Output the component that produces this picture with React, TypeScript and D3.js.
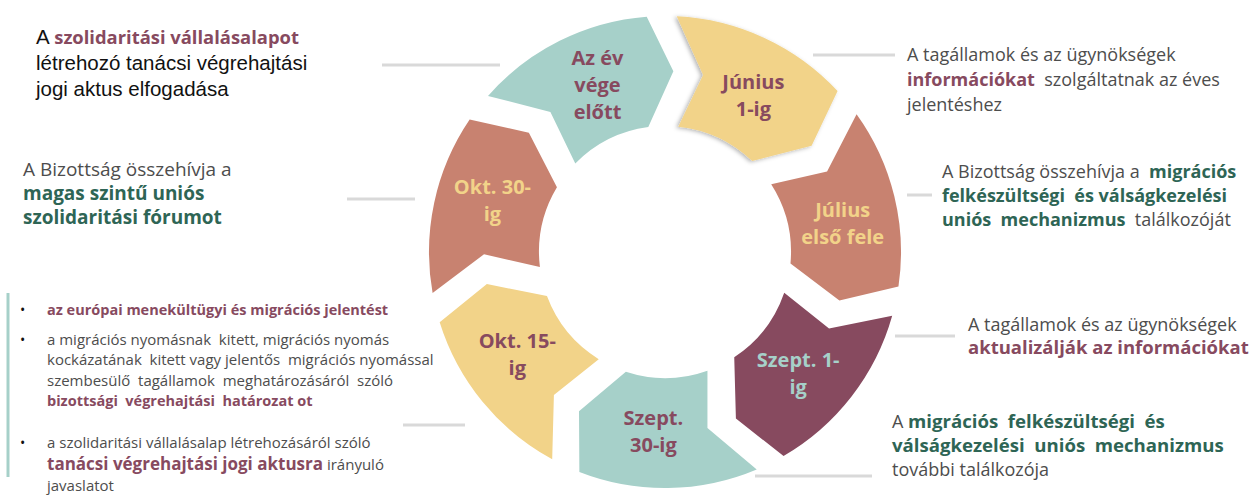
import React from 'react'
import * as d3 from 'd3'

// stages of the annual cycle, clockwise from the top
const stageLabels = [
  ['Június', '1-ig'],
  ['Július', 'első fele'],
  ['Szept. 1-', 'ig'],
  ['Szept.', '30-ig'],
  ['Okt. 15-', 'ig'],
  ['Okt. 30-', 'ig'],
  ['Az év', 'vége', 'előtt']
]
const stageWeights = [1, 1, 1, 1, 1, 1, 1]
const stageFill = ['#f2d389', '#c88270', '#874a5f', '#a6d0c9', '#f2d389', '#c88270', '#a6d0c9']
const stageText = ['#874a5f', '#f2d389', '#a6d0c9', '#874a5f', '#874a5f', '#f2d389', '#874a5f']

// annotation texts: each line is a list of [text, style] runs
// styles: k = black arial, n = grey, p = plum bold, P = larger plum bold, g = green bold
const noteTopLeft = [
  [['A ', 'k'], ['szolidaritási vállalásalapot', 'p']],
  [['létrehozó tanácsi végrehajtási', 'k']],
  [['jogi aktus elfogadása', 'k']]
]
const noteMidLeft = [
  [['A Bizottság összehívja a', 'n']],
  [['magas szintű uniós', 'g']],
  [['szolidaritási fórumot', 'g']]
]
const noteTopRight = [
  [['A tagállamok és az ügynökségek', 'n']],
  [['információkat', 'p'], ['  szolgáltatnak az éves', 'n']],
  [['jelentéshez', 'n']]
]
const noteRight2 = [
  [['A Bizottság összehívja a  ', 'n'], ['migrációs', 'g']],
  [['felkészültségi  és válságkezelési', 'g']],
  [['uniós  mechanizmus', 'g'], ['  találkozóját', 'n']]
]
const noteRight3 = [
  [['A tagállamok és az ügynökségek', 'n']],
  [['aktualizálják az információkat', 'p']]
]
const noteRight4 = [
  [['A ', 'n'], ['migrációs  felkészültségi  és', 'g']],
  [['válságkezelési  uniós  mechanizmus', 'g']],
  [['további találkozója', 'n']]
]
const bulletItems = [
  [[['az európai menekültügyi és migrációs jelentést', 'p']]],
  [
    [['a migrációs nyomásnak  kitett, migrációs nyomás', 'n']],
    [['kockázatának  kitett vagy jelentős  migrációs nyomással', 'n']],
    [['szembesülő  tagállamok  meghatározásáról  szóló', 'n']],
    [['bizottsági  végrehajtási  határozat ot', 'p']]
  ],
  [
    [['a szolidaritási vállalásalap létrehozásáról szóló', 'n']],
    [['tanácsi végrehajtási jogi aktusra', 'P'], [' irányuló', 'n']],
    [['javaslatot', 'n']]
  ]
]

const W = 1259
const H = 496
const cx = 665
const cy = 252
const rIn = 126
const rOut = 236
const rMid = 181
const halfGap = 15
const tip = 8.2 * Math.PI / 180
const bodyFont = 'Open Sans, sans-serif'

const runStyle = (s: string, size: number, bold: number) => {
  if (s === 'k') return { fill: '#111', fontFamily: 'Liberation Sans, Arial, sans-serif', fontWeight: 400, fontSize: size }
  if (s === 'p') return { fill: '#874a5f', fontFamily: bodyFont, fontWeight: 700, fontSize: bold }
  if (s === 'P') return { fill: '#874a5f', fontFamily: bodyFont, fontWeight: 700, fontSize: 17 }
  if (s === 'g') return { fill: '#2e6555', fontFamily: bodyFont, fontWeight: 700, fontSize: bold }
  return { fill: '#4d4d4d', fontFamily: bodyFont, fontWeight: 400, fontSize: size }
}

function polar (r: number, a: number): [number, number] {
  return [cx + r * Math.sin(a), cy - r * Math.cos(a)]
}

function chevron (a0: number, a1: number) {
  const p = d3.path()
  const so = a0 + halfGap / rOut
  const eo = a1 - halfGap / rOut
  const si = a0 + halfGap / rIn
  const ei = a1 - halfGap / rIn
  const sm = a0 + halfGap / rMid + tip
  const em = a1 - halfGap / rMid + tip
  p.moveTo(...polar(rOut, so))
  p.arc(cx, cy, rOut, so - Math.PI / 2, eo - Math.PI / 2, false)
  p.lineTo(...polar(rMid, em))
  p.lineTo(...polar(rIn, ei))
  p.arc(cx, cy, rIn, ei - Math.PI / 2, si - Math.PI / 2, true)
  p.lineTo(...polar(rMid, sm))
  p.closePath()
  return p.toString()
}

function Note (props: { lines: any[], x: number, y: number, size: number, bold?: number, lh: number }) {
  const bold = props.bold || props.size
  return (
    <text x={props.x} y={props.y}>
      {props.lines.map((line: any[], i: number) => (
        <tspan key={i} x={props.x} y={props.y + i * props.lh} style={{ whiteSpace: 'pre' }}>
          {line.map((run: string[], j: number) => (
            <tspan key={j} {...runStyle(run[1], props.size, bold)}>{run[0]}</tspan>
          ))}
        </tspan>
      ))}
    </text>
  )
}

export default function App () {
  const pie = d3.pie<number>().sort(null).startAngle(-0.8 * Math.PI / 180).endAngle(359.2 * Math.PI / 180)
  const arcs = pie(stageWeights)

  const connectors = [
    [382, 500, 65], [347, 415, 199], [403, 465, 425],
    [813, 895, 55], [907, 932, 195], [895, 955, 336], [755, 872, 476]
  ]

  // bullet list layout
  const bulletStarts = [315, 345, 448]
  const bulletLh = [20, 20.3, 21.5]

  return (
    <svg width={W} height={H} style={{ position: 'absolute', left: 0, top: 0, background: '#fff' }}>
      <defs>
        <filter id='sh' x='-20%' y='-20%' width='140%' height='140%'>
          <feDropShadow dx='-2' dy='1' stdDeviation='2' floodColor='#000' floodOpacity='0.3' />
        </filter>
      </defs>
      {connectors.map((c, i) => (
        <line key={i} x1={c[0]} x2={c[1]} y1={c[2]} y2={c[2]} stroke='#d9d9d9' strokeWidth={3} />
      ))}
      {arcs.map((d, i) => (
        <path key={i} d={chevron(d.startAngle, d.endAngle)} fill={stageFill[i]} filter={i === 0 ? 'url(#sh)' : undefined} />
      ))}
      {arcs.map((d, i) => {
        const mid = (d.startAngle + d.endAngle) / 2 + 4.5 * Math.PI / 180
        const [x, y] = polar(180, mid)
        const lines = stageLabels[i]
        const lh = 27
        const y0 = y - (lines.length - 1) * lh / 2 + 7
        return (
          <text key={i} textAnchor='middle' fontFamily={bodyFont} fontWeight={700} fontSize={20} fill={stageText[i]}>
            {lines.map((l, j) => (
              <tspan key={j} x={x} y={y0 + j * lh}>{l}</tspan>
            ))}
          </text>
        )
      })}

      <Note lines={noteTopLeft} x={36} y={44} size={20.5} bold={18.4} lh={26} />
      <Note lines={noteMidLeft} x={23} y={176} size={19} lh={24} />
      <Note lines={noteTopRight} x={907} y={61} size={18} lh={25} />
      <Note lines={noteRight2} x={942} y={178} size={18} lh={24} />
      <Note lines={noteRight3} x={968} y={331} size={18} bold={18.5} lh={23} />
      <Note lines={noteRight4} x={892} y={428} size={18} bold={18.6} lh={24} />

      <line x1={8} x2={8} y1={293} y2={477} stroke='#a6d0c9' strokeWidth={3} />
      {bulletItems.map((item, i) => (
        <g key={i}>
          <text x={20} y={bulletStarts[i]} fontSize={14} fill='#111' fontFamily={bodyFont}>•</text>
          <Note lines={item} x={47} y={bulletStarts[i]} size={15} bold={14.5} lh={bulletLh[i]} />
        </g>
      ))}
    </svg>
  )
}
